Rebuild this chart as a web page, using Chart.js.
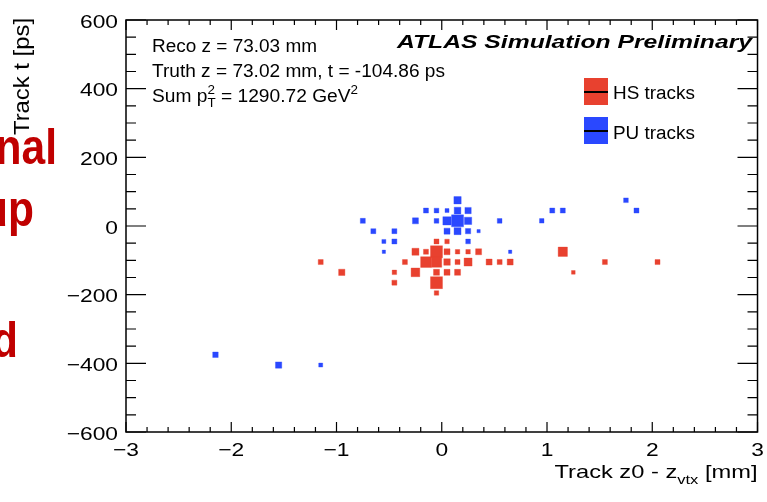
<!DOCTYPE html>
<html>
<head>
<meta charset="utf-8">
<script src="https://cdn.jsdelivr.net/npm/chart.js@4.4.1/dist/chart.umd.min.js"></script>
<style>
  html, body { margin: 0; padding: 0; background: #fff; }
</style>
</head>
<body>
<canvas id="grafico" width="767" height="502"></canvas>
<script>
// HS tracks (vermelho): z0 - zvtx [mm], t [ps], conteúdo do bin
const hsZ = [-0.05, 0.05,
  -0.25, -0.15, -0.05, 0.05, 0.15, 0.25, 0.35, 1.15,
  -1.15, -0.35, -0.15, -0.05, 0.05, 0.15, 0.25, 0.45, 0.55, 0.65, 1.55, 2.05,
  -0.95, -0.45, -0.25, -0.05, 0.05, 0.15, 1.25,
  -0.45, -0.05,
  -0.05];
const hsT = [-45, -45,
  -75, -75, -75, -75, -75, -75, -75, -75,
  -105, -105, -105, -105, -105, -105, -105, -105, -105, -105, -105, -105,
  -135, -135, -135, -135, -135, -135, -135,
  -165, -165,
  -195];
const hsConteudo = [5, 4.5,
  7, 5, 12, 6, 4.5, 4.5, 6, 9.3,
  5, 5, 10.7, 10.5, 6.5, 5, 8, 6, 5, 6, 5, 5,
  6.3, 4.5, 8.7, 6, 6, 6, 3.7,
  5, 12,
  4.5];

// PU tracks (azul)
const puZ = [0.15, 1.75,
  -0.15, -0.05, 0.05, 0.15, 0.25, 1.05, 1.15, 1.85,
  -0.75, -0.25, -0.05, 0.05, 0.15, 0.25, 0.55, 0.95,
  -0.65, -0.45, 0.05, 0.15, 0.25, 0.35,
  -0.55, -0.45, 0.25,
  -0.55, 0.65,
  -2.15,
  -1.55, -1.15];
const puT = [75, 75,
  45, 45, 45, 45, 45, 45, 45, 45,
  15, 15, 15, 15, 15, 15, 15, 15,
  -15, -15, -15, -15, -15, -15,
  -45, -45, -45,
  -75, -75,
  -375,
  -405, -405];
const puConteudo = [7.3, 4.7,
  5, 4.7, 4, 6.7, 6.3, 5, 5, 5,
  5, 6, 4.7, 8.3, 12, 7.3, 4.7, 4.5,
  5, 5, 6, 7, 5.3, 3.3,
  4, 5, 4.7,
  3.3, 3.3,
  5.5,
  6.3, 4];

const xTicksRotulos = [-3, -2, -1, 0, 1, 2, 3];
const yTicksRotulos = [-600, -400, -200, 0, 200, 400, 600];

const corHS = '#E8412F';
const corPU = '#2A48FF';
const FONTE = '"Liberation Sans", Arial, Helvetica, sans-serif';

// lado da caixa (px) proporcional ao conteúdo do bin
const ladoCaixa = w => w * 1.0;

function montarPontos(zs, ts, ws) {
  return zs.map((z, i) => ({ x: z, y: ts[i], w: ws[i] }));
}

// texto com esticamento horizontal para ajustar a largura desejada
function texto(ctx, partes, px, py, tam, largura, align, estilo) {
  estilo = estilo || '';
  const fonte = s => `${estilo} ${s}px ${FONTE}`;
  // mede largura natural
  let natural = 0;
  partes.forEach(p => {
    if (p.sub || p.sup) {
      ctx.font = fonte(tam * 0.7);
      natural += Math.max(ctx.measureText(p.sub || '').width, ctx.measureText(p.sup || '').width);
    } else {
      ctx.font = fonte(tam);
      natural += ctx.measureText(p.t).width;
    }
  });
  const sx = largura ? largura / natural : 1;
  const w = natural * sx;
  let x0 = px;
  if (align === 'right') x0 = px - w;
  else if (align === 'center') x0 = px - w / 2;
  ctx.save();
  ctx.translate(x0, py);
  ctx.scale(sx, 1);
  ctx.textAlign = 'left';
  ctx.textBaseline = 'alphabetic';
  let cx = 0;
  partes.forEach(p => {
    if (p.sub || p.sup) {
      ctx.font = fonte(tam * 0.7);
      if (p.sup) ctx.fillText(p.sup, cx, -tam * 0.42);
      if (p.sub) ctx.fillText(p.sub, cx, tam * 0.3);
      cx += Math.max(ctx.measureText(p.sub || '').width, ctx.measureText(p.sup || '').width);
    } else {
      ctx.font = fonte(tam);
      ctx.fillText(p.t, cx, 0);
      cx += ctx.measureText(p.t).width;
    }
  });
  ctx.restore();
}

function rotuloNum(v) {
  return v < 0 ? '\u2212' + Math.abs(v) : String(v);
}

// moldura, ticks e textos no estilo ROOT
const estiloRoot = {
  id: 'estiloRoot',
  afterDraw(chart) {
    const { ctx, chartArea: a, scales: { x, y } } = chart;
    ctx.save();
    ctx.strokeStyle = '#000';
    ctx.fillStyle = '#000';

    // moldura
    ctx.lineWidth = 1.5;
    ctx.strokeRect(a.left, a.top, a.right - a.left, a.bottom - a.top);

    // ticks de x (a cada 0.2, maiores nos inteiros)
    ctx.lineWidth = 1.2;
    ctx.beginPath();
    for (let i = -15; i <= 15; i++) {
      const px = x.getPixelForValue(i / 5);
      const len = i % 5 === 0 ? 10 : 5;
      ctx.moveTo(px, a.bottom); ctx.lineTo(px, a.bottom - len);
      ctx.moveTo(px, a.top); ctx.lineTo(px, a.top + len);
    }
    // ticks de y (a cada 50, maiores a cada 200)
    for (let i = -12; i <= 12; i++) {
      const py = y.getPixelForValue(i * 50);
      const len = i % 4 === 0 ? 20 : 10;
      ctx.moveTo(a.left, py); ctx.lineTo(a.left + len, py);
      ctx.moveTo(a.right, py); ctx.lineTo(a.right - len, py);
    }
    ctx.stroke();

    // rótulos dos ticks
    ctx.font = `18.5px ${FONTE}`;
    const sxTick = 38 / ctx.measureText('600').width;
    xTicksRotulos.forEach(v => {
      const s = rotuloNum(v);
      ctx.font = `18.5px ${FONTE}`;
      texto(ctx, [{ t: s }], x.getPixelForValue(v), 455.5, 18.5, ctx.measureText(s).width * sxTick, 'center');
    });
    yTicksRotulos.forEach(v => {
      const s = rotuloNum(v);
      ctx.font = `18.5px ${FONTE}`;
      texto(ctx, [{ t: s }], a.left - 8, y.getPixelForValue(v) + 7.5, 18.5, ctx.measureText(s).width * sxTick, 'right');
    });

    // títulos dos eixos
    texto(ctx, [{ t: 'Track z0 - z' }, { sub: 'vtx' }, { t: ' [mm]' }], a.right, 478, 18.5, 203, 'right');
    ctx.save();
    ctx.translate(29, 18);
    ctx.rotate(-Math.PI / 2);
    texto(ctx, [{ t: 'Track t [ps]' }], 0, 0, 22, 117, 'right');
    ctx.restore();

    // rótulo ATLAS
    texto(ctx, [{ t: 'ATLAS Simulation Preliminary' }], 752, 48, 18.5, 355, 'right', 'italic bold');

    // anotações
    texto(ctx, [{ t: 'Reco z = 73.03 mm' }], 152, 52, 18, 165, 'left');
    texto(ctx, [{ t: 'Truth z = 73.02 mm, t = -104.86 ps' }], 152, 77, 18, 293, 'left');
    texto(ctx, [{ t: 'Sum p' }, { sup: '2', sub: 'T' }, { t: ' = 1290.72 GeV' }, { sup: '2' }], 152, 102, 18, 206, 'left');

    // legenda
    const itens = [
      { nome: 'HS tracks', cor: corHS, topo: 78, base: 99 },
      { nome: 'PU tracks', cor: corPU, topo: 117, base: 139 }
    ];
    itens.forEach(it => {
      ctx.fillStyle = it.cor;
      ctx.fillRect(584, it.topo, 24, 27);
      ctx.strokeStyle = '#000';
      ctx.lineWidth = 2;
      ctx.beginPath();
      ctx.moveTo(584, it.topo + 14); ctx.lineTo(608, it.topo + 14);
      ctx.stroke();
      ctx.fillStyle = '#000';
      texto(ctx, [{ t: it.nome }], 613, it.base, 18, 82, 'left');
    });

    // restos do texto do slide (cortados à esquerda)
    ctx.fillStyle = '#C00000';
    ctx.font = `bold 50px ${FONTE}`;
    const restos = [['nal', 57, 164], ['up', 34, 226], ['d', 18, 357]];
    restos.forEach(([s, direita, base]) => {
      const larg = ctx.measureText(s).width * 0.85;
      texto(ctx, [{ t: s }], direita, base, 50, larg, 'right', 'bold');
    });

    ctx.restore();
  }
};

const ctx = document.getElementById('grafico').getContext('2d');
const chartInstance = new Chart(ctx, {
  type: 'scatter',
  data: {
    datasets: [
      {
        label: 'HS tracks',
        data: montarPontos(hsZ, hsT, hsConteudo),
        backgroundColor: corHS,
        borderColor: 'rgba(232,65,47,0.35)',
        borderWidth: 1,
        pointStyle: 'rect',
        pointRadius: c => ladoCaixa(c.raw.w) / Math.SQRT2,
        pointHoverRadius: c => ladoCaixa(c.raw.w) / Math.SQRT2
      },
      {
        label: 'PU tracks',
        data: montarPontos(puZ, puT, puConteudo),
        backgroundColor: corPU,
        borderColor: 'rgba(42,72,255,0.35)',
        borderWidth: 1,
        pointStyle: 'rect',
        pointRadius: c => ladoCaixa(c.raw.w) / Math.SQRT2,
        pointHoverRadius: c => ladoCaixa(c.raw.w) / Math.SQRT2
      }
    ]
  },
  options: {
    responsive: false,
    animation: false,
    devicePixelRatio: 1,
    layout: { padding: { left: 126, right: 7, top: 20, bottom: 70 } },
    scales: {
      x: { type: 'linear', min: -3, max: 3, display: false },
      y: { type: 'linear', min: -600, max: 600, display: false }
    },
    plugins: {
      legend: { display: false },
      tooltip: { enabled: false }
    }
  },
  plugins: [estiloRoot]
});
</script>
</body>
</html>
